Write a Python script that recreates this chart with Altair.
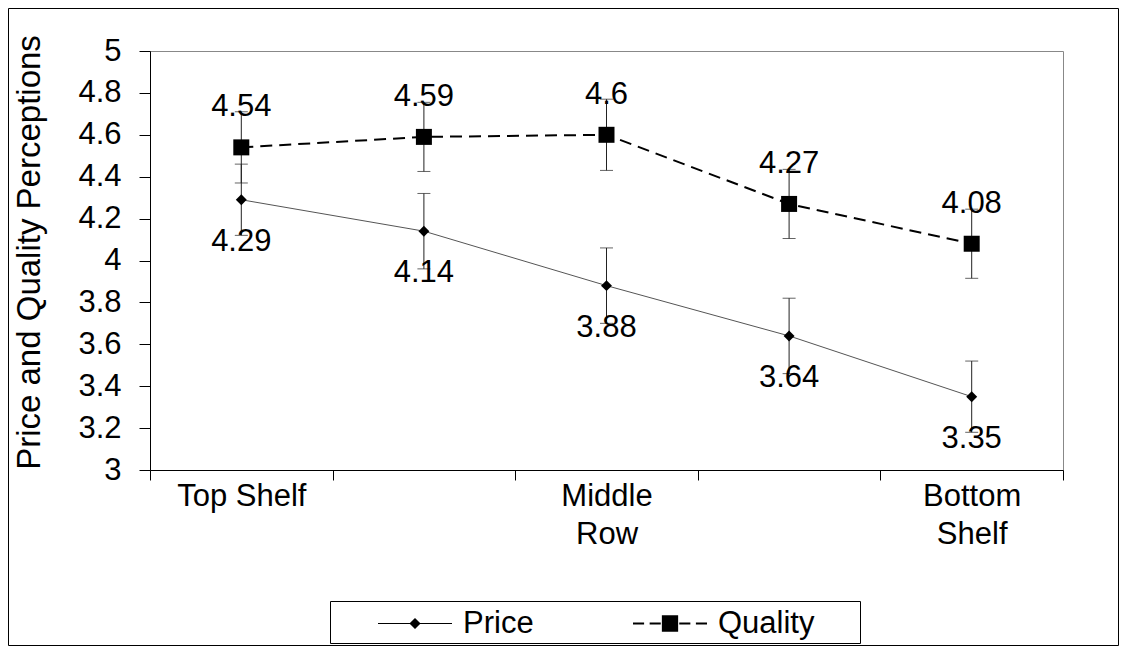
import json
import altair as alt
import pandas as pd

# ---------------- data ----------------
positions = ["1", "2", "3", "4", "5"]
x_label_lines = [["Top Shelf"], [""], ["Middle", "Row"], [""], ["Bottom", "Shelf"]]
series_names = ["Price", "Quality"]
price = [4.29, 4.14, 3.88, 3.64, 3.35]
quality = [4.54, 4.59, 4.60, 4.27, 4.08]
price_err = [0.17, 0.18, 0.18, 0.18, 0.17]
quality_err = [0.17, 0.165, 0.17, 0.165, 0.165]
y_ticks = [3.0, 3.2, 3.4, 3.6, 3.8, 4.0, 4.2, 4.4, 4.6, 4.8, 5.0]
y_title = "Price and Quality Perceptions"

rows = []
for name, vals, errs in [("Price", price, price_err), ("Quality", quality, quality_err)]:
    for p, v, e in zip(positions, vals, errs):
        rows.append({"series": name, "pos": p, "value": v, "lo": v - e, "hi": v + e})
df = pd.DataFrame(rows)

FONT = "Liberation Sans"
FS = 31

x_axis = alt.Axis(
    title=None,
    labelExpr=json.dumps(x_label_lines) + "[toNumber(datum.value) - 1]",
    tickBand="extent",
    tickSize=10,
    labelAngle=0,
    labelFont=FONT,
    labelFontSize=FS,
    labelLineHeight=38,
    labelPadding=1,
    labelColor="black",
    domainColor="black",
    tickColor="black",
)
x_scale = alt.Scale(type="band", paddingInner=0, paddingOuter=0)


def X():
    return alt.X("pos:N", scale=x_scale, axis=x_axis, bandPosition=0.5, sort=positions)


y_axis = alt.Axis(
    values=y_ticks,
    format=".1~f",
    tickSize=11,
    labelPadding=18,
    labelFont=FONT,
    labelFontSize=FS,
    labelColor="black",
    domainColor="black",
    tickColor="black",
    titleFont=FONT,
    titleFontSize=33,
    titleFontWeight="normal",
    titleColor="black",
    titleX=-121,
    titleY=201,
    titleAngle=-90,
    titleAlign="center",
    titleBaseline="middle",
)
y_scale = alt.Scale(domain=[3, 5], nice=False, zero=False)


def Y(field):
    return alt.Y(field, title=y_title, scale=y_scale, axis=y_axis)


base = alt.Chart(df)

price_line = base.transform_filter("datum.series == 'Price'").mark_line(
    color="#555555", strokeWidth=1
).encode(x=X(), y=Y("value:Q"))

quality_line = base.transform_filter("datum.series == 'Quality'").mark_line(
    color="black", strokeWidth=2, strokeDash=[12, 7]
).encode(x=X(), y=Y("value:Q"))

err_rule = base.mark_rule(color="#222222", strokeWidth=1).encode(
    x=X(), y=Y("lo:Q"), y2="hi:Q"
)

err_caps = base.transform_fold(["lo", "hi"], as_=["end", "endval"]).mark_tick(
    color="#222222", thickness=1, size=13
).encode(x=X(), y=Y("endval:Q"))

price_pts = base.transform_filter("datum.series == 'Price'").mark_point(
    shape="diamond", filled=True, color="black", size=120, opacity=1
).encode(x=X(), y=Y("value:Q"))

quality_pts = base.transform_filter("datum.series == 'Quality'").mark_point(
    shape="square", filled=True, color="black", size=256, opacity=1
).encode(x=X(), y=Y("value:Q"))

price_txt = base.transform_filter("datum.series == 'Price'").mark_text(
    font=FONT, fontSize=FS, color="black", baseline="alphabetic", dy=51
).encode(x=X(), y=Y("value:Q"), text=alt.Text("value:Q", format=".2~f"))

quality_txt = base.transform_filter("datum.series == 'Quality'").mark_text(
    font=FONT, fontSize=FS, color="black", baseline="alphabetic", dy=-31
).encode(x=X(), y=Y("value:Q"), text=alt.Text("value:Q", format=".2~f"))

# legend glyphs: line drawn as thin filled bars + marker
price_path = ("M-1,-0.014H1V0.014H-1Z"
              "M0,-0.15L0.15,0L0,0.15L-0.15,0Z")
quality_path = ("M-1,-0.028H-0.7V0.028H-1Z"
                "M-0.55,-0.028H-0.25V0.028H-0.55Z"
                "M-0.22,-0.22H0.22V0.22H-0.22Z"
                "M0.25,-0.028H0.55V0.028H0.25Z"
                "M0.7,-0.028H1V0.028H0.7Z")

legend = alt.Legend(
    title=None,
    orient="none",
    legendX=227,
    legendY=534.5,
    direction="horizontal",
    symbolSize=5476,
    symbolFillColor="black",
    symbolOpacity=1,
    labelFont=FONT,
    labelFontSize=FS,
    labelColor="black",
    labelOffset=10,
    labelBaseline="middle",
    columnPadding=96,
    padding=0,
)

legend_layer = base.transform_filter("false").mark_point(
    filled=True, color="black", opacity=1
).encode(
    x=X(),
    y=Y("value:Q"),
    shape=alt.Shape("series:N", title=None,
                    scale=alt.Scale(domain=series_names, range=[price_path, quality_path]),
                    legend=legend),
)

one = pd.DataFrame({"k": [0]})
outer_frame = alt.Chart(one).mark_rect(fill="white", fillOpacity=0, stroke="black", strokeWidth=1).encode(
    x=alt.value(-141.5), x2=alt.value(968.5), y=alt.value(-42.5), y2=alt.value(594.5)
)
legend_box = alt.Chart(one).mark_rect(fillOpacity=0, stroke="black", strokeWidth=1).encode(
    x=alt.value(180.5), x2=alt.value(710.5), y=alt.value(550.5), y2=alt.value(592.5)
)

chart = alt.layer(
    outer_frame, price_line, quality_line, err_rule, err_caps,
    price_pts, quality_pts, price_txt, quality_txt, legend_layer, legend_box
).properties(
    width=913,
    height=419,
    autosize=alt.AutoSizeParams(type="none"),
    padding={"left": 142, "top": 43, "right": 56, "bottom": 176},
    background="white",
).configure_view(
    stroke="#888888", strokeWidth=1
).configure_axis(
    grid=False
)

chart.save("out.html", embed_options={"renderer": "svg", "actions": False})
